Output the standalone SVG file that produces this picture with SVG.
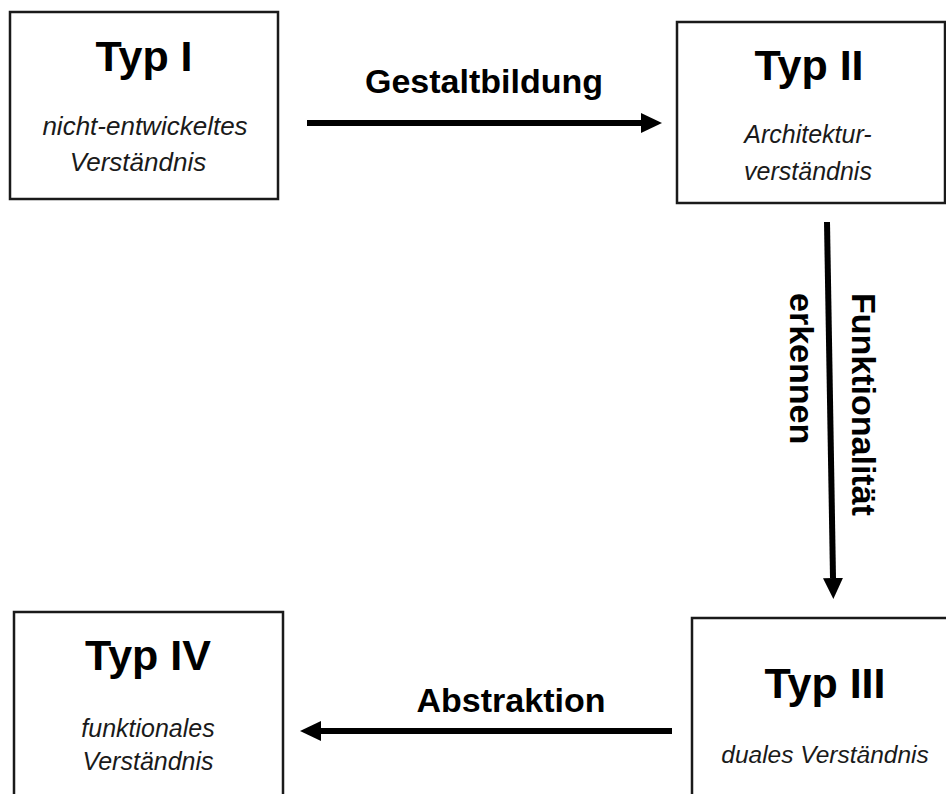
<svg xmlns="http://www.w3.org/2000/svg" width="946" height="794" viewBox="0 0 946 794">
  <style>
    .box { fill: #ffffff; stroke: #1a1a1a; stroke-width: 2.5; }
    .title { font-family: "Liberation Sans", Arial, sans-serif; font-weight: bold; font-size: 43px; fill: #000; text-anchor: middle; }
    .sub { font-family: "Liberation Sans", Arial, sans-serif; font-style: italic; font-size: 25px; fill: #1a1a1a; text-anchor: middle; }
    .lbl { font-family: "Liberation Sans", Arial, sans-serif; font-weight: bold; font-size: 34px; fill: #000; }
    .conn { stroke: #000; stroke-width: 6; fill: none; marker-end: url(#head); }
  </style>
  <defs>
    <marker id="head" markerUnits="userSpaceOnUse" viewBox="0 -11 22 22" markerWidth="22" markerHeight="22" refX="0" refY="0" orient="auto">
      <path d="M0,-10 L21,0 L0,10 Z" fill="#000"/>
    </marker>
  </defs>
  <rect width="946" height="794" fill="#ffffff"/>

  <g id="typ1">
    <rect class="box" x="10" y="12" width="268" height="187"/>
    <text class="title" x="144" y="71">Typ I</text>
    <text class="sub" x="145" y="135" style="font-size:26px">nicht-entwickeltes</text>
    <text class="sub" x="138" y="171" style="font-size:26px">Verständnis</text>
  </g>

  <g id="typ2">
    <rect class="box" x="677" y="22" width="268" height="181"/>
    <text class="title" x="809" y="80">Typ II</text>
    <text class="sub" x="808" y="143">Architektur-</text>
    <text class="sub" x="808" y="180">verständnis</text>
  </g>

  <g id="typ3">
    <rect class="box" x="692" y="618" width="270" height="200"/>
    <text class="title" x="825" y="698">Typ III</text>
    <text class="sub" x="825" y="763" style="font-size:24.5px">duales Verständnis</text>
  </g>

  <g id="typ4">
    <rect class="box" x="14" y="612" width="269" height="200"/>
    <text class="title" x="148" y="670">Typ IV</text>
    <text class="sub" x="148" y="737">funktionales</text>
    <text class="sub" x="148" y="770">Verständnis</text>
  </g>

  <g id="connectors">
    <line class="conn" x1="307" y1="123" x2="641" y2="123"/>
    <line class="conn" x1="827" y1="222" x2="833" y2="578"/>
    <line class="conn" x1="672" y1="731" x2="321" y2="731"/>
    <text class="lbl" x="484" y="93" text-anchor="middle">Gestaltbildung</text>
    <text class="lbl" transform="translate(852,293) rotate(90)">Funktionalität</text>
    <text class="lbl" transform="translate(790,293) rotate(90)">erkennen</text>
    <text class="lbl" x="511" y="712" text-anchor="middle">Abstraktion</text>
  </g>
</svg>
